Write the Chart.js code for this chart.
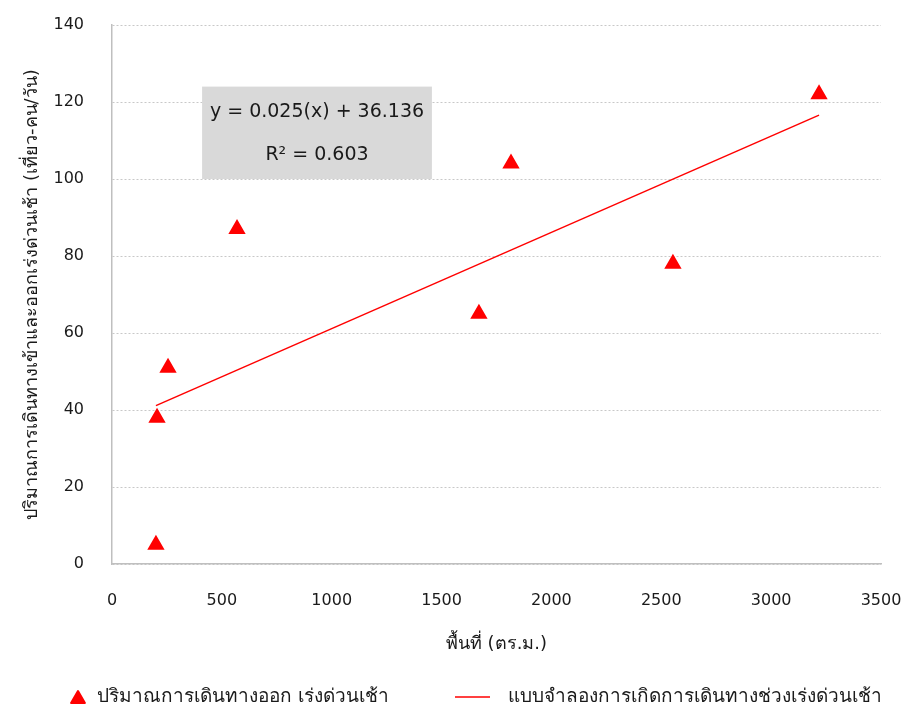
<!DOCTYPE html>
<html>
<head>
<meta charset="utf-8">
<script src="https://cdn.jsdelivr.net/npm/chart.js@4/dist/chart.umd.min.js"></script>
<style>
  html, body { margin: 0; padding: 0; background: #ffffff; }
  #wrap { width: 909px; height: 711px; }
</style>
</head>
<body>
<div id="wrap"><canvas id="c" width="909" height="711"></canvas></div>
<script>
// Floor area (sq.m.) of each site and its morning peak trips (trip-persons/day)
const areaSqm = [200, 205, 255, 569, 1670, 1816, 2553, 3218];
const morningTrips = [5, 38, 51, 87, 65, 104, 78, 122];

// Axis tick values
const xTicks = [0, 500, 1000, 1500, 2000, 2500, 3000, 3500];
const yTicks = [0, 20, 40, 60, 80, 100, 120, 140];

// Fitted linear model
const trendSlope = 0.025;
const trendIntercept = 36.136;
const rSquared = 0.603;

// Labels
const pointsLabel = 'ปริมาณการเดินทางออก เร่งด่วนเช้า';
const trendLabel = 'แบบจำลองการเกิดการเดินทางช่วงเร่งด่วนเช้า';
const xTitle = 'พื้นที่ (ตร.ม.)';
const yTitle = 'ปริมาณการเดินทางเข้าและออกเร่งด่วนเช้า (เที่ยว-คน/วัน)';

const FONT = "Tahoma, 'DejaVu Sans', 'Noto Sans', sans-serif";
const TEXT = '#1a1a1a';
const RED = '#ff0000';

const points = areaSqm.map((x, i) => ({ x: x, y: morningTrips[i] }));
const xMin = Math.min(...areaSqm), xMax = Math.max(...areaSqm);
const trendLine = [xMin, xMax].map(x => ({ x: x, y: trendSlope * x + trendIntercept }));

// Grey box with the regression equation, placed in data coordinates
const equationBox = {
  id: 'equationBox',
  afterDatasetsDraw(chart) {
    const { ctx, scales: { x, y } } = chart;
    const left = x.getPixelForValue(410), right = x.getPixelForValue(1456);
    const top = y.getPixelForValue(124), bottom = y.getPixelForValue(100);
    ctx.save();
    ctx.fillStyle = '#d9d9d9';
    ctx.fillRect(left, top, right - left, bottom - top);
    ctx.fillStyle = TEXT;
    ctx.font = "19px " + FONT;
    ctx.textAlign = 'center';
    ctx.textBaseline = 'middle';
    const cx = (left + right) / 2;
    ctx.fillText('y = ' + trendSlope.toFixed(3) + '(x) + ' + trendIntercept.toFixed(3), cx, top + 25);
    ctx.fillText('R² = ' + rSquared.toFixed(3), cx, top + 68);
    ctx.restore();
  }
};

// Legend row under the x axis title, one entry per dataset
const bottomLegend = {
  id: 'bottomLegend',
  afterDraw(chart) {
    const { ctx } = chart;
    const ds = chart.data.datasets;
    const rowY = 697;
    ctx.save();
    ctx.font = "19px " + FONT;
    ctx.textBaseline = 'middle';
    ctx.textAlign = 'left';
    // marker entry
    ctx.fillStyle = ds[0].backgroundColor;
    ctx.strokeStyle = ds[0].borderColor;
    ctx.lineWidth = ds[0].borderWidth;
    ctx.lineJoin = 'round';
    Chart.helpers.drawPoint(ctx, { pointStyle: 'triangle', radius: 8, rotation: 0, borderWidth: ds[0].borderWidth }, 78, rowY + 2);
    ctx.fillStyle = TEXT;
    ctx.fillText(ds[0].label, 97, rowY);
    // line entry
    ctx.strokeStyle = ds[1].borderColor;
    ctx.lineWidth = ds[1].borderWidth;
    ctx.beginPath();
    ctx.moveTo(455, rowY);
    ctx.lineTo(490, rowY);
    ctx.stroke();
    ctx.fillText(ds[1].label, 508, rowY);
    ctx.restore();
  }
};

new Chart(document.getElementById('c'), {
  type: 'scatter',
  data: {
    datasets: [
      {
        label: pointsLabel,
        data: points,
        pointStyle: 'triangle',
        pointRadius: 8,
        pointHoverRadius: 8,
        backgroundColor: RED,
        borderColor: RED,
        borderWidth: 2,
        order: 1
      },
      {
        type: 'line',
        label: trendLabel,
        data: trendLine,
        borderColor: RED,
        backgroundColor: RED,
        borderWidth: 1.5,
        pointRadius: 0,
        fill: false,
        order: 2
      }
    ]
  },
  options: {
    responsive: false,
    devicePixelRatio: 1,
    animation: false,
    elements: { point: { borderJoinStyle: 'round' } },
    layout: { padding: { top: 4, right: 8, left: 0, bottom: 40 } },
    scales: {
      x: {
        type: 'linear',
        min: 0,
        max: 3500,
        afterBuildTicks: s => { s.ticks = xTicks.map(v => ({ value: v })); },
        afterFit: s => { s.height = 107; s.paddingLeft = 0; s.paddingRight = 28; },
        grid: { display: false, drawTicks: false },
        border: { display: true, color: '#bfbfbf', width: 1.5 },
        ticks: { color: TEXT, font: { family: FONT, size: 16 }, padding: 27, maxRotation: 0, callback: v => String(v) },
        title: { display: true, text: xTitle, color: TEXT, font: { family: FONT, size: 18 }, padding: { top: 0, bottom: 16 } }
      },
      y: {
        type: 'linear',
        min: 0,
        max: 140,
        afterBuildTicks: s => { s.ticks = yTicks.map(v => ({ value: v })); },
        afterFit: s => { s.width = 112; s.paddingTop = 25; s.paddingBottom = 0; },
        grid: { color: '#c8c8c8', lineWidth: 1, drawTicks: false },
        border: { display: true, color: '#bfbfbf', width: 1.5, dash: [2, 2] },
        ticks: { color: TEXT, font: { family: FONT, size: 16 }, padding: 28, callback: v => String(v) },
        title: { display: true, text: yTitle, color: TEXT, font: { family: FONT, size: 18 }, padding: { top: 22, bottom: 0 } }
      }
    },
    plugins: {
      legend: { display: false },
      tooltip: { enabled: false }
    }
  },
  plugins: [equationBox, bottomLegend]
});
</script>
</body>
</html>
